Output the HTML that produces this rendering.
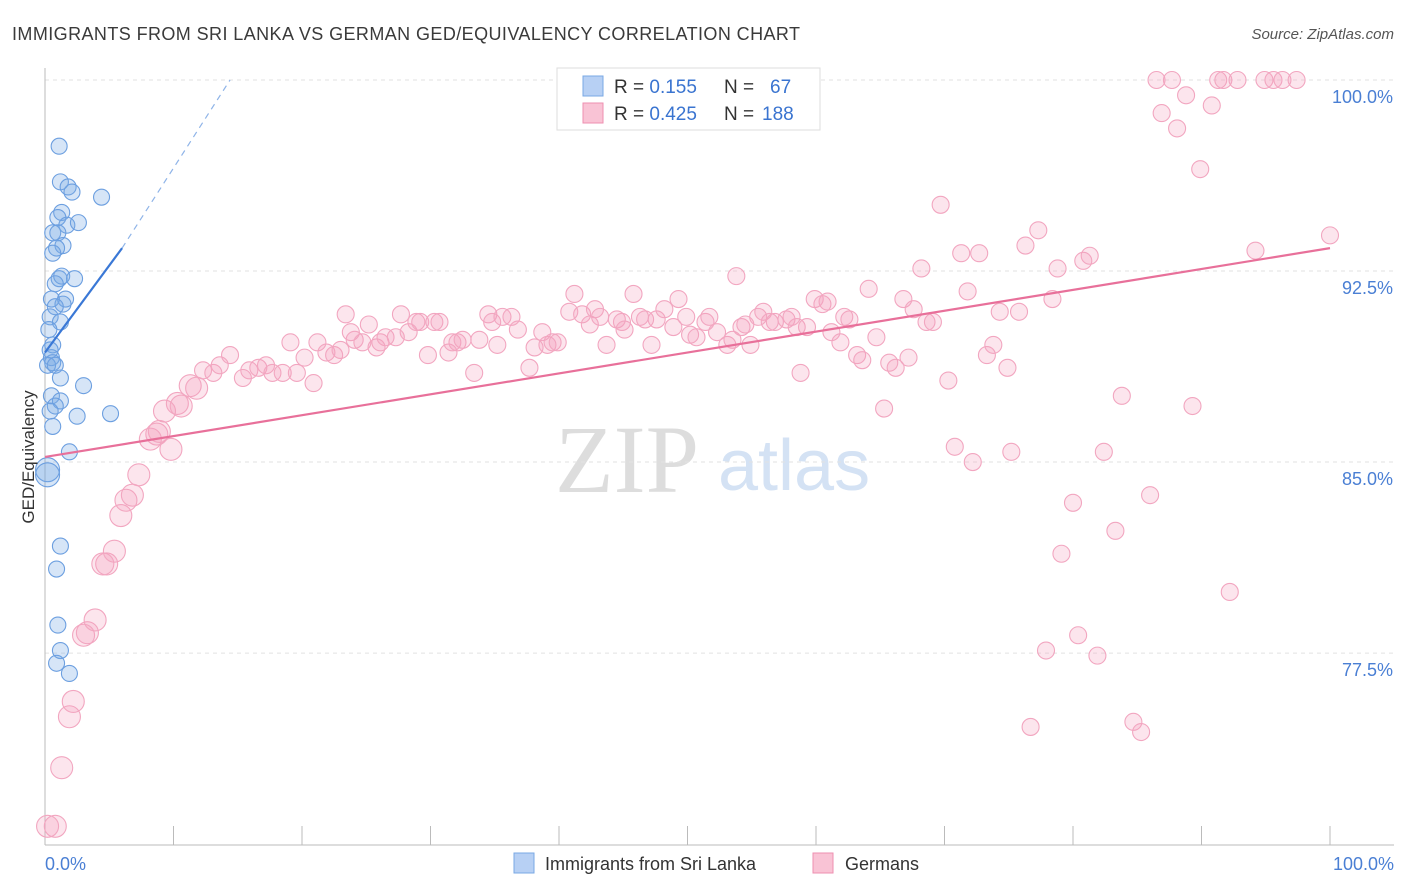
<!DOCTYPE html>
<html><head><meta charset="utf-8">
<style>
body{margin:0;background:#fff;font-family:"Liberation Sans",sans-serif;}
svg{display:block}
</style></head>
<body>
<svg id="chart" width="1406" height="892">
<text x="12" y="40" font-size="18" fill="#3a3a3a" textLength="788" lengthAdjust="spacing">IMMIGRANTS FROM SRI LANKA VS GERMAN GED/EQUIVALENCY CORRELATION CHART</text>
<text x="1394" y="39" font-size="15" fill="#555" font-style="italic" text-anchor="end">Source: ZipAtlas.com</text>
<text x="555" y="492" font-size="96" fill="#ddd" font-family="Liberation Serif,serif">ZIP</text>
<text x="718" y="490" font-size="72" fill="#d4e2f4">atlas</text>
<g id="grid"></g><g id="axes"></g><g id="pink"></g><g id="blue"></g><g id="lines"></g>
<text transform="translate(34,457) rotate(-90)" font-size="17" fill="#333" text-anchor="middle">GED/Equivalency</text>
<text x="45" y="870" font-size="18" fill="#4a7fd4">0.0%</text>
<text x="1394" y="870" font-size="18" fill="#4a7fd4" text-anchor="end">100.0%</text>
<g>
<rect x="557" y="68" width="263" height="62" fill="#fff" stroke="#ddd"/>
<rect x="583" y="76" width="20" height="20" fill="#b7d0f4" stroke="#7aa8e4"/>
<rect x="583" y="103" width="20" height="20" fill="#f9c3d5" stroke="#ee8fb0"/>
<text x="614" y="93" font-size="19" fill="#333">R = <tspan fill="#3a74d0">0.155</tspan><tspan x="724">N = </tspan><tspan fill="#3a74d0" x="770">67</tspan></text>
<text x="614" y="120" font-size="19" fill="#333">R = <tspan fill="#3a74d0">0.425</tspan><tspan x="724">N = </tspan><tspan fill="#3a74d0" x="762">188</tspan></text>
</g>
<g>
<rect x="514" y="853" width="20" height="20" fill="#b7d0f4" stroke="#7aa8e4"/>
<text x="545" y="870" font-size="18" fill="#333">Immigrants from Sri Lanka</text>
<rect x="813" y="853" width="20" height="20" fill="#f9c3d5" stroke="#ee8fb0"/>
<text x="845" y="870" font-size="18" fill="#333">Germans</text>
</g>
</svg>
<script>
const yTicks=[100,92.5,85,77.5];
const yTickLabels=["100.0%","92.5%","85.0%","77.5%"];
const xTicks=[0,10,20,30,40,50,60,70,80,90,100];
const pinkX=[0.8,0.2,1.3,1.9,2.2,3.0,3.3,3.9,4.8,4.5,5.4,5.9,6.3,6.8,7.3,8.2,8.7,8.9,9.8,9.3,10.3,10.6,11.3,11.8,12.3,13.1,13.6,14.4,15.4,15.9,16.6,17.2,17.7,18.5,19.1,19.6,20.2,20.9,21.2,21.9,22.5,23.0,23.4,23.8,24.1,24.7,25.2,25.8,26.1,26.5,27.3,27.7,28.3,28.9,29.2,29.8,30.3,30.7,31.4,31.7,32.1,32.5,33.4,33.8,34.5,34.8,35.2,35.6,36.3,36.8,37.7,38.1,38.7,39.1,39.5,39.9,40.8,41.2,41.8,42.4,42.8,43.2,43.7,44.5,44.9,45.1,45.8,46.3,46.7,47.2,47.6,48.2,48.9,49.3,49.9,50.2,50.7,51.4,51.7,52.3,53.1,53.5,53.8,54.2,54.5,54.9,55.5,55.9,56.4,56.8,57.7,58.1,58.5,58.8,59.3,59.9,60.5,60.9,61.2,61.9,62.2,62.6,63.2,63.6,64.1,64.7,65.3,65.7,66.2,66.8,67.2,67.6,68.2,68.6,69.1,69.7,70.3,70.8,71.3,71.8,72.2,72.7,73.3,73.8,74.3,74.9,75.2,75.8,76.3,77.3,77.9,78.4,78.8,79.1,80.0,80.4,80.8,81.3,81.9,82.4,83.3,83.8,84.7,85.3,86.0,86.5,86.9,87.7,88.1,88.8,89.3,89.9,90.8,91.3,91.7,92.2,92.8,94.2,94.9,95.6,96.3,97.4,100,76.7];
const pinkY=[70.7,70.7,73.0,75.0,75.6,78.2,78.3,78.8,81.0,81.0,81.5,82.9,83.5,83.7,84.5,85.9,86.1,86.2,85.5,87.0,87.3,87.2,88.0,87.9,88.6,88.5,88.8,89.2,88.3,88.6,88.7,88.8,88.5,88.5,89.7,88.5,89.1,88.1,89.7,89.3,89.2,89.4,90.8,90.1,89.8,89.7,90.4,89.5,89.7,89.9,89.9,90.8,90.1,90.5,90.5,89.2,90.5,90.5,89.3,89.7,89.7,89.8,88.5,89.8,90.8,90.5,89.6,90.7,90.7,90.2,88.7,89.5,90.1,89.6,89.7,89.7,90.9,91.6,90.8,90.4,91.0,90.7,89.6,90.6,90.5,90.2,91.6,90.7,90.6,89.6,90.6,91.0,90.3,91.4,90.7,90.0,89.9,90.5,90.7,90.1,89.6,89.8,92.3,90.3,90.4,89.6,90.7,90.9,90.5,90.5,90.6,90.7,90.3,88.5,90.3,91.4,91.2,91.3,90.1,89.7,90.7,90.6,89.2,89.0,91.8,89.9,87.1,88.9,88.7,91.4,89.1,91.0,92.6,90.5,90.5,95.1,88.2,85.6,93.2,91.7,85.0,93.2,89.2,89.6,90.9,88.7,85.4,90.9,93.5,94.1,77.6,91.4,92.6,81.4,83.4,78.2,92.9,93.1,77.4,85.4,82.3,87.6,74.8,74.4,83.7,100,98.7,100,98.1,99.4,87.2,96.5,99.0,100,100,79.9,100,93.3,100,100,100,100,93.9,74.6];
const blueX=[1.1,1.2,1.8,2.1,4.4,1.3,1.0,1.7,2.6,0.6,1.0,1.4,0.9,0.6,1.1,1.3,2.3,0.8,0.5,1.6,1.4,0.8,0.4,1.2,0.3,0.6,0.4,0.5,0.6,0.2,0.8,1.2,3.0,0.5,1.2,0.8,0.4,2.5,5.1,0.6,1.9,0.2,0.2,1.2,0.9,1.0,1.2,0.9,1.9];
const blueY=[97.4,96.0,95.8,95.6,95.4,94.8,94.6,94.3,94.4,94.0,94.0,93.5,93.4,93.2,92.2,92.3,92.2,92.0,91.4,91.4,91.2,91.1,90.7,90.5,90.2,89.6,89.4,89.1,88.9,88.8,88.8,88.3,88.0,87.6,87.4,87.2,87.0,86.8,86.9,86.4,85.4,84.7,84.5,81.7,80.8,78.6,77.6,77.1,76.7];
const pinkTrend=[[0,85.2],[100,93.4]];
const blueTrendSolid=[[0,89.3],[6.0,93.4]];
const blueTrendDash=[[6.0,93.4],[14.4,100]];
const NS="http://www.w3.org/2000/svg";
const X=v=>45+v*12.85;
const Y=v=>80+(100-v)*25.47;
function mk(tag,attrs,parent){const e=document.createElementNS(NS,tag);for(const k in attrs)e.setAttribute(k,attrs[k]);document.getElementById(parent).appendChild(e);return e;}
yTicks.forEach((t,i)=>{
 const l=mk('line',{x1:45,x2:1394,y1:Y(t),y2:Y(t),stroke:'#e2e2e2','stroke-dasharray':'4,4'},'grid');
 
 
 const tx=mk('text',{x:1393,y:Y(t)+23,'font-size':18,fill:'#4a7fd4','text-anchor':'end'},'grid');
 tx.textContent=yTickLabels[i];
 
 
});
const ax=mk('line',{x1:45,x2:45,y1:68,y2:845,stroke:'#bbb'},'axes');


const bx=mk('line',{x1:45,x2:1394,y1:845,y2:845,stroke:'#bbb'},'axes');


xTicks.forEach(t=>{
 const l=mk('line',{x1:X(t),x2:X(t),y1:826,y2:845,stroke:'#bbb'},'axes');
 
 
});
pinkX.forEach((x,i)=>{
 const r=x<12?11:8.5;
 const c=mk('circle',{cx:X(x),cy:Y(pinkY[i]),r:r,fill:'rgba(244,160,192,0.28)',stroke:'#f2a6c0','stroke-width':1.1},'pink');
 
 
});
blueX.forEach((x,i)=>{
 const r=(blueY[i]<85&&blueY[i]>84)?12:8;
 const c=mk('circle',{cx:X(x),cy:Y(blueY[i]),r:r,fill:'rgba(120,168,230,0.3)',stroke:'#6c9fe0','stroke-width':1.1},'blue');
 
 
});
const pl=mk('line',{x1:X(pinkTrend[0][0]),y1:Y(pinkTrend[0][1]),x2:X(pinkTrend[1][0]),y2:Y(pinkTrend[1][1]),stroke:'#e8709a','stroke-width':2.2},'lines');


const bl=mk('line',{x1:X(blueTrendSolid[0][0]),y1:Y(blueTrendSolid[0][1]),x2:X(blueTrendSolid[1][0]),y2:Y(blueTrendSolid[1][1]),stroke:'#3a78d6','stroke-width':2.2},'lines');


const bd=mk('line',{x1:X(blueTrendDash[0][0]),y1:Y(blueTrendDash[0][1]),x2:X(blueTrendDash[1][0]),y2:Y(blueTrendDash[1][1]),stroke:'#8fb4e8','stroke-width':1.2,'stroke-dasharray':'6,5'},'lines');


</script>
</body></html>
